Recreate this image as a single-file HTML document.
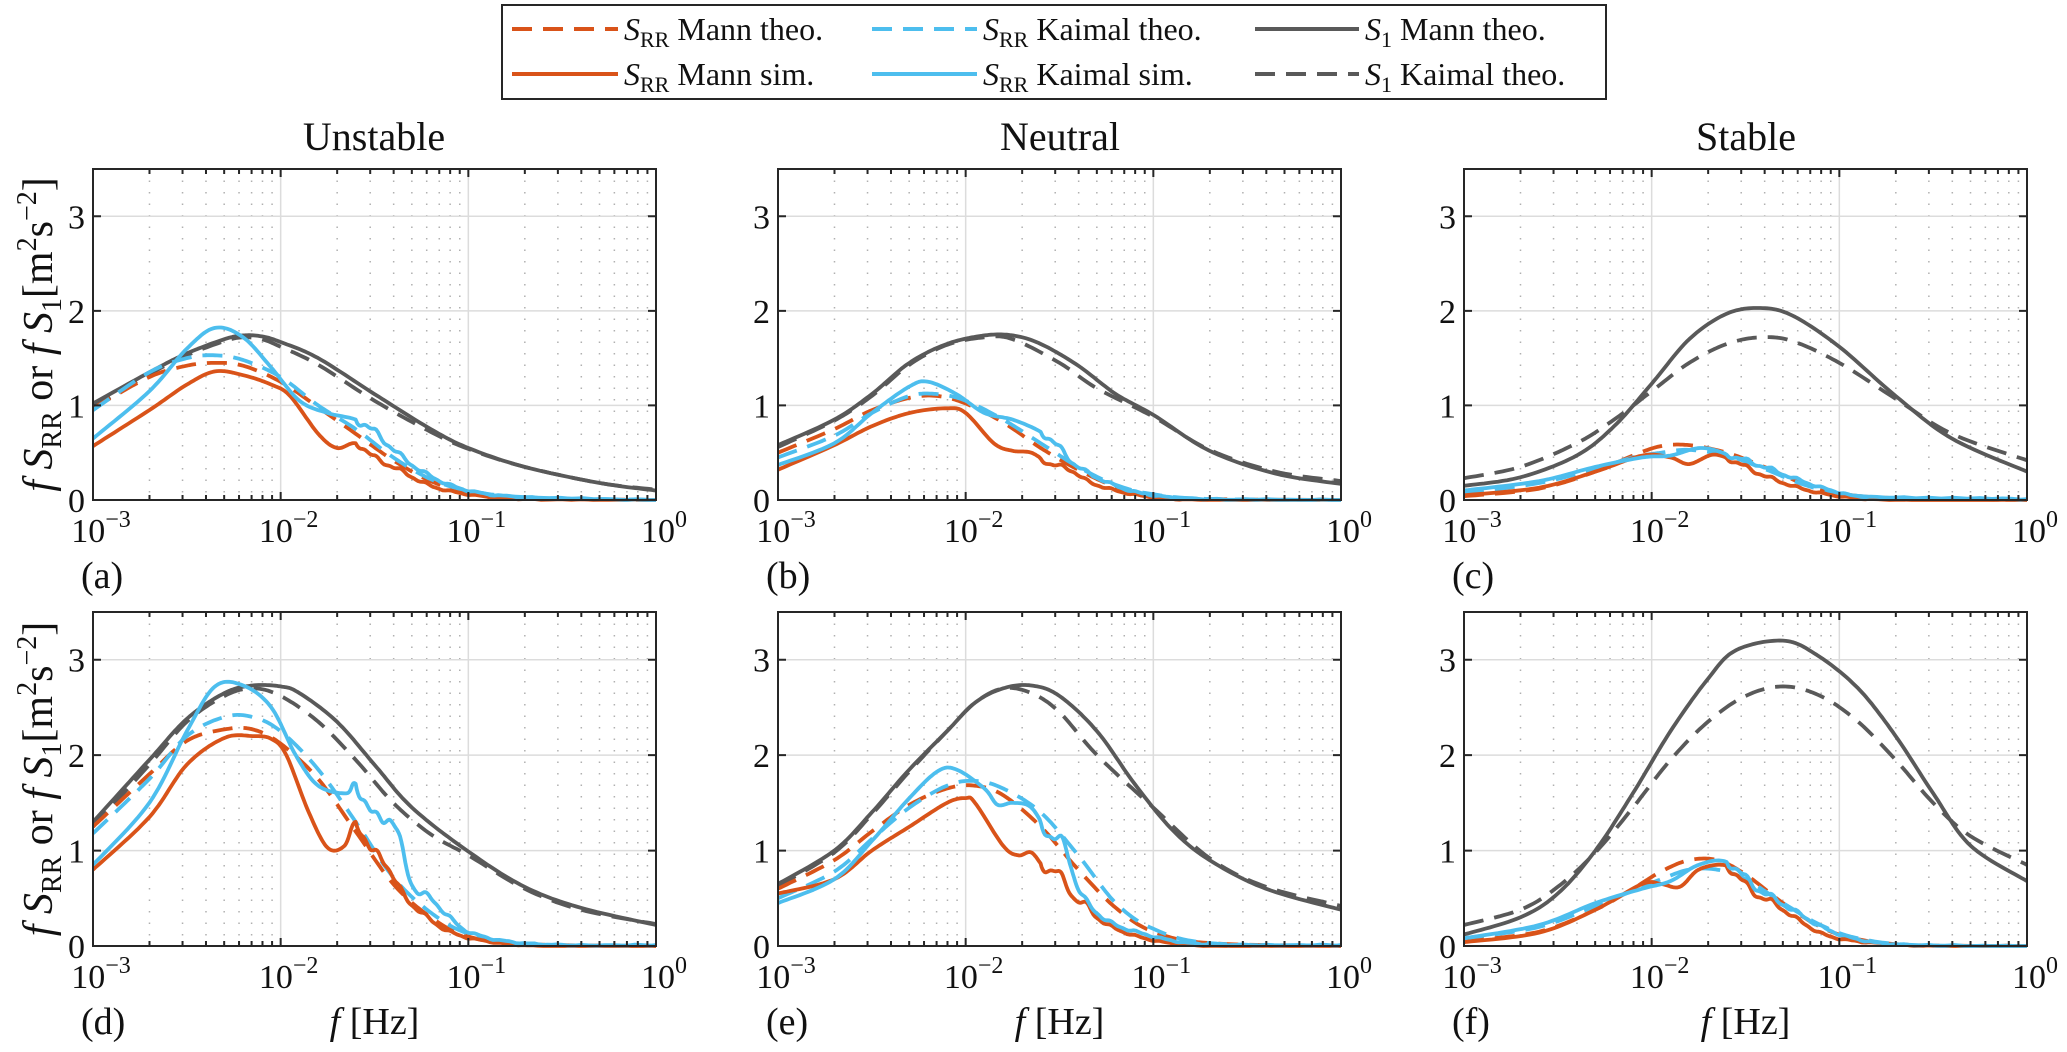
<!DOCTYPE html>
<html><head><meta charset="utf-8">
<style>
html,body{margin:0;padding:0;background:#fff;}
svg{display:block;font-family:"Liberation Serif",serif;}
</style></head>
<body>
<svg id="s" width="2067" height="1052" viewBox="0 0 2067 1052" xmlns="http://www.w3.org/2000/svg">
<rect x="0" y="0" width="2067" height="1052" fill="#fff"/>
<g>
<rect x="502" y="5" width="1104" height="94" fill="#fff" stroke="#262626" stroke-width="2"/>
<g stroke-width="4" fill="none">
<line x1="512" y1="29" x2="618" y2="29" stroke="#D95319" stroke-dasharray="20 11"/>
<line x1="512" y1="74" x2="618" y2="74" stroke="#D95319"/>
<line x1="872" y1="29" x2="977" y2="29" stroke="#4DBEEE" stroke-dasharray="20 11"/>
<line x1="872" y1="74" x2="977" y2="74" stroke="#4DBEEE"/>
<line x1="1255" y1="29" x2="1359" y2="29" stroke="#595959"/>
<line x1="1255" y1="74" x2="1359" y2="74" stroke="#595959" stroke-dasharray="20 11"/>
</g>
<g font-size="32" fill="#111">
<text x="624" y="40"><tspan font-style="italic">S</tspan><tspan font-size="22" dy="7">RR</tspan><tspan dy="-7"> Mann theo.</tspan></text>
<text x="624" y="85"><tspan font-style="italic">S</tspan><tspan font-size="22" dy="7">RR</tspan><tspan dy="-7"> Mann sim.</tspan></text>
<text x="983" y="40"><tspan font-style="italic">S</tspan><tspan font-size="22" dy="7">RR</tspan><tspan dy="-7"> Kaimal theo.</tspan></text>
<text x="983" y="85"><tspan font-style="italic">S</tspan><tspan font-size="22" dy="7">RR</tspan><tspan dy="-7"> Kaimal sim.</tspan></text>
<text x="1365" y="40"><tspan font-style="italic">S</tspan><tspan font-size="22" dy="7">1</tspan><tspan dy="-7"> Mann theo.</tspan></text>
<text x="1365" y="85"><tspan font-style="italic">S</tspan><tspan font-size="22" dy="7">1</tspan><tspan dy="-7"> Kaimal theo.</tspan></text>
</g>
</g>
<g font-size="40" fill="#111" text-anchor="middle">
<text x="374" y="150">Unstable</text>
<text x="1060" y="150">Neutral</text>
<text x="1746" y="150">Stable</text>
</g>
<g id="plots"></g>
</svg>
<script>
(function(){
var NS="http://www.w3.org/2000/svg";
var g=document.getElementById("plots");
var lefts=[93,778,1464], W=563, tops=[169,612], bots=[500,946];
var C={o:"#D95319",b:"#4DBEEE",k:"#595959"};
function el(n,a,p){var e=document.createElementNS(NS,n);for(var k in a)e.setAttribute(k,a[k]);(p||g).appendChild(e);return e;}
var D=[
{s1m:[[-3,1.02],[-2.7,1.35],[-2.5,1.55],[-2.3,1.70],[-2.2,1.74],[-2.1,1.73],[-2,1.67],[-1.8,1.5],[-1.5,1.12],[-1.2,0.75],[-1,0.55],[-0.7,0.35],[-0.3,0.18],[0,0.1]],
 s1k:[[-3,0.98],[-2.7,1.33],[-2.5,1.53],[-2.3,1.68],[-2.2,1.72],[-2.1,1.70],[-2,1.62],[-1.8,1.43],[-1.5,1.05],[-1.2,0.72],[-1,0.54],[-0.7,0.35],[-0.3,0.18],[0,0.11]],
 rmt:[[-3,0.97],[-2.7,1.3],[-2.5,1.42],[-2.35,1.45],[-2.2,1.42],[-2,1.25],[-1.8,0.98],[-1.6,0.7],[-1.4,0.42],[-1.2,0.2],[-1,0.08],[-0.7,0.02],[0,0]],
 rkt:[[-3,0.95],[-2.7,1.35],[-2.5,1.5],[-2.35,1.53],[-2.2,1.48],[-2,1.3],[-1.8,1.0],[-1.6,0.75],[-1.4,0.45],[-1.2,0.22],[-1,0.1],[-0.7,0.03],[0,0]],
 rms:[[-3,0.57],[-2.7,0.95],[-2.5,1.22],[-2.35,1.36],[-2.2,1.32],[-2.05,1.22],[-1.95,1.1],[-1.8,0.7],[-1.7,0.55],[-1.6,0.6],[-1.5,0.45],[-1.35,0.3],[-1.2,0.15],[-1,0.06],[-0.7,0.01],[0,0]],
 rks:[[-3,0.65],[-2.7,1.15],[-2.5,1.6],[-2.35,1.82],[-2.2,1.72],[-2.05,1.4],[-1.9,1.05],[-1.75,0.92],[-1.6,0.85],[-1.5,0.72],[-1.35,0.45],[-1.2,0.25],[-1,0.1],[-0.7,0.03],[0,0]]},
{s1m:[[-3,0.58],[-2.7,0.85],[-2.5,1.12],[-2.3,1.45],[-2.1,1.65],[-1.9,1.74],[-1.75,1.74],[-1.6,1.65],[-1.4,1.42],[-1.2,1.12],[-1,0.9],[-0.7,0.52],[-0.35,0.28],[0,0.17]],
 s1k:[[-3,0.56],[-2.7,0.84],[-2.5,1.1],[-2.3,1.43],[-2.1,1.64],[-1.9,1.72],[-1.75,1.7],[-1.5,1.45],[-1.3,1.18],[-1.0,0.88],[-0.7,0.53],[-0.35,0.3],[0,0.2]],
 rmt:[[-3,0.5],[-2.7,0.75],[-2.5,0.95],[-2.3,1.08],[-2.15,1.1],[-2,1.02],[-1.8,0.82],[-1.6,0.55],[-1.4,0.32],[-1.2,0.14],[-1,0.05],[-0.7,0.01],[0,0]],
 rkt:[[-3,0.45],[-2.7,0.68],[-2.5,0.92],[-2.3,1.1],[-2.15,1.12],[-2,1.05],[-1.8,0.85],[-1.6,0.6],[-1.4,0.35],[-1.2,0.16],[-1,0.06],[-0.7,0.01],[0,0]],
 rms:[[-3,0.32],[-2.7,0.58],[-2.5,0.78],[-2.3,0.92],[-2.1,0.97],[-2,0.92],[-1.85,0.6],[-1.75,0.52],[-1.65,0.5],[-1.55,0.38],[-1.45,0.33],[-1.35,0.2],[-1.2,0.1],[-1,0.03],[-0.7,0],[0,0]],
 rks:[[-3,0.37],[-2.7,0.6],[-2.5,0.92],[-2.3,1.2],[-2.2,1.25],[-2.05,1.12],[-1.9,0.92],[-1.75,0.85],[-1.6,0.72],[-1.5,0.55],[-1.4,0.35],[-1.2,0.15],[-1,0.05],[-0.7,0.01],[0,0]]},
{s1m:[[-3,0.15],[-2.7,0.24],[-2.4,0.47],[-2.2,0.78],[-2,1.23],[-1.8,1.7],[-1.6,1.97],[-1.42,2.03],[-1.25,1.95],[-1,1.62],[-0.7,1.1],[-0.4,0.65],[0,0.3]],
 s1k:[[-3,0.23],[-2.7,0.35],[-2.4,0.6],[-2.2,0.85],[-2,1.15],[-1.8,1.45],[-1.6,1.65],[-1.42,1.72],[-1.25,1.68],[-1,1.45],[-0.7,1.07],[-0.4,0.7],[0,0.42]],
 rmt:[[-3,0.04],[-2.6,0.12],[-2.3,0.3],[-2.1,0.47],[-1.95,0.57],[-1.8,0.58],[-1.6,0.5],[-1.4,0.35],[-1.2,0.18],[-1,0.07],[-0.7,0.02],[0,0]],
 rkt:[[-3,0.07],[-2.6,0.18],[-2.3,0.33],[-2.1,0.45],[-1.95,0.5],[-1.8,0.53],[-1.6,0.47],[-1.4,0.33],[-1.2,0.17],[-1,0.07],[-0.7,0.02],[0,0]],
 rms:[[-3,0.05],[-2.6,0.13],[-2.3,0.3],[-2.05,0.47],[-1.9,0.45],[-1.8,0.38],[-1.67,0.48],[-1.55,0.4],[-1.45,0.3],[-1.35,0.22],[-1.2,0.12],[-1,0.04],[-0.7,0],[0,0]],
 rks:[[-3,0.1],[-2.6,0.2],[-2.3,0.35],[-2.05,0.45],[-1.9,0.47],[-1.73,0.55],[-1.55,0.45],[-1.4,0.35],[-1.2,0.2],[-1,0.08],[-0.8,0.03],[0,0.01]]},
{s1m:[[-3,1.3],[-2.7,1.95],[-2.5,2.38],[-2.3,2.65],[-2.15,2.73],[-2,2.72],[-1.9,2.65],[-1.7,2.35],[-1.5,1.9],[-1.3,1.45],[-1,0.99],[-0.7,0.62],[-0.4,0.4],[0,0.22]],
 s1k:[[-3,1.25],[-2.7,1.9],[-2.5,2.35],[-2.3,2.62],[-2.15,2.7],[-2,2.62],[-1.8,2.35],[-1.6,1.95],[-1.4,1.5],[-1.2,1.17],[-1,0.95],[-0.7,0.6],[-0.4,0.38],[0,0.23]],
 rmt:[[-3,1.25],[-2.7,1.8],[-2.5,2.15],[-2.3,2.27],[-2.15,2.27],[-2,2.12],[-1.8,1.75],[-1.6,1.2],[-1.4,0.65],[-1.2,0.3],[-1,0.1],[-0.7,0.02],[0,0]],
 rkt:[[-3,1.18],[-2.7,1.75],[-2.5,2.2],[-2.3,2.4],[-2.15,2.4],[-2,2.25],[-1.8,1.85],[-1.6,1.3],[-1.4,0.72],[-1.2,0.35],[-1,0.13],[-0.7,0.02],[0,0]],
 rms:[[-3,0.8],[-2.7,1.35],[-2.5,1.9],[-2.3,2.18],[-2.15,2.2],[-2.05,2.17],[-1.97,2.0],[-1.85,1.4],[-1.75,1.03],[-1.66,1.05],[-1.6,1.3],[-1.52,1.0],[-1.45,0.9],[-1.35,0.55],[-1.25,0.35],[-1.1,0.15],[-0.9,0.05],[-0.6,0],[0,0]],
 rks:[[-3,0.85],[-2.7,1.5],[-2.5,2.25],[-2.35,2.72],[-2.2,2.73],[-2.05,2.5],[-1.92,2.0],[-1.8,1.68],[-1.65,1.6],[-1.6,1.7],[-1.5,1.35],[-1.4,1.3],[-1.3,0.65],[-1.2,0.5],[-1.1,0.3],[-1,0.15],[-0.8,0.05],[-0.5,0.01],[0,0.01]]},
{s1m:[[-3,0.65],[-2.7,1.0],[-2.5,1.4],[-2.3,1.85],[-2.1,2.25],[-1.95,2.55],[-1.8,2.7],[-1.65,2.73],[-1.5,2.62],[-1.3,2.25],[-1.1,1.7],[-0.9,1.22],[-0.7,0.9],[-0.4,0.6],[0,0.38]],
 s1k:[[-3,0.63],[-2.7,0.98],[-2.5,1.38],[-2.3,1.83],[-2.1,2.25],[-1.95,2.55],[-1.8,2.7],[-1.65,2.65],[-1.5,2.45],[-1.3,2.0],[-1,1.45],[-0.7,0.92],[-0.4,0.62],[0,0.42]],
 rmt:[[-3,0.6],[-2.7,0.9],[-2.5,1.2],[-2.3,1.48],[-2.1,1.65],[-1.95,1.68],[-1.8,1.58],[-1.6,1.25],[-1.4,0.8],[-1.2,0.4],[-1,0.15],[-0.7,0.03],[0,0]],
 rkt:[[-3,0.5],[-2.7,0.78],[-2.5,1.12],[-2.3,1.45],[-2.1,1.68],[-1.95,1.73],[-1.8,1.65],[-1.6,1.4],[-1.4,0.95],[-1.2,0.45],[-1,0.18],[-0.7,0.03],[0,0]],
 rms:[[-3,0.55],[-2.7,0.7],[-2.5,1.0],[-2.3,1.25],[-2.1,1.5],[-2,1.55],[-1.95,1.5],[-1.8,1.05],[-1.72,0.95],[-1.65,0.98],[-1.58,0.82],[-1.5,0.75],[-1.42,0.5],[-1.35,0.42],[-1.3,0.3],[-1.2,0.18],[-1,0.06],[-0.7,0],[0,0]],
 rks:[[-3,0.45],[-2.7,0.7],[-2.5,1.1],[-2.3,1.55],[-2.15,1.83],[-2.05,1.85],[-1.9,1.65],[-1.83,1.48],[-1.75,1.5],[-1.65,1.45],[-1.55,1.15],[-1.47,1.05],[-1.4,0.6],[-1.3,0.35],[-1.2,0.22],[-1,0.1],[-0.8,0.03],[-0.5,0.01],[0,0.01]]},
{s1m:[[-3,0.12],[-2.7,0.3],[-2.5,0.55],[-2.3,1.0],[-2.1,1.6],[-1.9,2.25],[-1.7,2.8],[-1.55,3.1],[-1.3,3.2],[-1.12,3.05],[-0.9,2.7],[-0.7,2.2],[-0.5,1.6],[-0.3,1.05],[0,0.68]],
 s1k:[[-3,0.22],[-2.7,0.38],[-2.5,0.62],[-2.3,0.98],[-2.1,1.45],[-1.9,1.95],[-1.7,2.35],[-1.5,2.62],[-1.3,2.72],[-1.1,2.62],[-0.9,2.35],[-0.7,1.95],[-0.5,1.5],[-0.3,1.15],[0,0.85]],
 rmt:[[-3,0.05],[-2.6,0.15],[-2.3,0.38],[-2.1,0.6],[-1.95,0.78],[-1.8,0.9],[-1.65,0.9],[-1.5,0.75],[-1.3,0.45],[-1.1,0.2],[-0.9,0.07],[-0.6,0.01],[0,0]],
 rkt:[[-3,0.08],[-2.6,0.2],[-2.3,0.42],[-2.1,0.58],[-1.95,0.7],[-1.8,0.8],[-1.65,0.8],[-1.5,0.7],[-1.3,0.45],[-1.1,0.22],[-0.9,0.08],[-0.6,0.01],[0,0]],
 rms:[[-3,0.04],[-2.6,0.14],[-2.3,0.38],[-2.05,0.65],[-1.95,0.65],[-1.85,0.62],[-1.75,0.8],[-1.62,0.85],[-1.55,0.75],[-1.45,0.55],[-1.35,0.45],[-1.2,0.25],[-1.05,0.1],[-0.8,0.03],[-0.5,0],[0,0]],
 rks:[[-3,0.08],[-2.6,0.22],[-2.3,0.45],[-2.05,0.6],[-1.9,0.68],[-1.75,0.85],[-1.6,0.88],[-1.45,0.62],[-1.35,0.5],[-1.2,0.32],[-1.05,0.16],[-0.85,0.05],[-0.6,0.01],[0,0]]}
];
function sample(pts,noise){
  var out=[];
  for(var i=0;i<pts.length-1;i++){
    var p0=pts[Math.max(0,i-1)],p1=pts[i],p2=pts[i+1],p3=pts[Math.min(pts.length-1,i+2)];
    var n=14;
    for(var j=0;j<n;j++){
      var t=j/n,t2=t*t,t3=t2*t;
      var f=function(a,b,c,d){return 0.5*((2*b)+(-a+c)*t+(2*a-5*b+4*c-d)*t2+(-a+3*b-3*c+d)*t3);};
      var x=f(p0[0],p1[0],p2[0],p3[0]), y=f(p0[1],p1[1],p2[1],p3[1]);
      if(noise && x>-1.6){y+= (0.035*y+0.004)*(Math.sin(x*45)+0.5*Math.sin(x*97+1.3));}
      if(y<0)y=0;
      out.push([x,y]);
    }
  }
  out.push(pts[pts.length-1]);
  return out;
}
var labels=["(a)","(b)","(c)","(d)","(e)","(f)"];
for(var r=0;r<2;r++)for(var c=0;c<3;c++){
  var idx=r*3+c, L=lefts[c], T=tops[r], B=bots[r], H=B-T;
  var X=function(lx){return L+(lx+3)/3*W;}, Y=function(v){return B-v/3.5*H;};
  for(var d=-3;d<0;d++)for(var m=2;m<=9;m++){
    var xx=X(d+Math.log10(m));
    el("line",{x1:xx,y1:T,x2:xx,y2:B,stroke:"#b0b0b0","stroke-width":1.5,"stroke-dasharray":"1.5 10"});
  }
  for(var d=-2;d<0;d++){var xx=X(d);el("line",{x1:xx,y1:T,x2:xx,y2:B,stroke:"#dcdcdc","stroke-width":1.5});}
  for(var v=1;v<=3;v++){el("line",{x1:L,y1:Y(v),x2:L+W,y2:Y(v),stroke:"#dcdcdc","stroke-width":1.5});}
  var dd=D[idx];
  var spec=[["s1m",C.k,0,0],["s1k",C.k,1,0],["rmt",C.o,1,0],["rkt",C.b,1,0],["rms",C.o,0,1],["rks",C.b,0,1]];
  var clip=el("clipPath",{id:"cp"+idx});
  el("rect",{x:L,y:T,width:W,height:H+2},clip);
  spec.forEach(function(s){
    var pts=sample(dd[s[0]],s[3]);
    var dstr=pts.map(function(p,i){return (i?"L":"M")+X(p[0]).toFixed(1)+" "+Y(p[1]).toFixed(1);}).join("");
    var a={d:dstr,fill:"none",stroke:s[1],"stroke-width":3.8,"stroke-linejoin":"round","clip-path":"url(#cp"+idx+")"};
    if(s[2])a["stroke-dasharray"]="20 11";
    el("path",a);
  });
  el("rect",{x:L,y:T,width:W,height:H,fill:"none",stroke:"#262626","stroke-width":2});
  var tk="";
  for(var d=-3;d<0;d++)for(var m=1;m<=9;m++){
    var xx=X(d+Math.log10(m)),len=(m==1?8:5);
    tk+="M"+xx+" "+B+"v"+(-len)+"M"+xx+" "+T+"v"+len;
  }
  for(var v=0;v<=3;v++){var yy=Y(v);tk+="M"+L+" "+yy+"h8M"+(L+W)+" "+yy+"h-8";}
  el("path",{d:tk,stroke:"#262626","stroke-width":2,fill:"none"});
  for(var v=0;v<=3;v++){var t=el("text",{x:L-8,y:Y(v)+12,"font-size":34,"text-anchor":"end",fill:"#111"});t.textContent=String(v);}
  var ex=["\u22123","\u22122","\u22121","0"];
  for(var d=0;d<4;d++){
    var t=el("text",{x:X(d-3)+8,y:B+42,"font-size":34,"text-anchor":"middle",fill:"#111"});
    var a1=document.createElementNS(NS,"tspan");a1.textContent="10";t.appendChild(a1);
    var a2=document.createElementNS(NS,"tspan");a2.setAttribute("font-size","24");a2.setAttribute("dy","-15");a2.textContent=ex[d];t.appendChild(a2);
  }
  var lt=el("text",{x:L-12,y:B+88,"font-size":38,fill:"#111"});lt.textContent=labels[idx];
  if(r==1){
    var ft=el("text",{x:L+W/2,y:B+88,"font-size":38,"text-anchor":"middle",fill:"#111"});
    ft.innerHTML='<tspan font-style="italic">f</tspan>  [Hz]';
  }
  if(c==0){
    var cy=(T+B)/2;
    var yt=el("text",{x:0,y:0,"font-size":42,"text-anchor":"middle",fill:"#111",transform:"translate(52,"+cy+") rotate(-90)"});
    yt.innerHTML='<tspan font-style="italic">f S</tspan><tspan font-size="28" dy="9">RR</tspan><tspan dy="-9"> or </tspan><tspan font-style="italic">f S</tspan><tspan font-size="28" dy="9">1</tspan><tspan dy="-9">[m</tspan><tspan font-size="28" dy="-16">2</tspan><tspan dy="16">s</tspan><tspan font-size="28" dy="-16">\u22122</tspan><tspan dy="16">]</tspan>';
  }
}
})();
</script>
</body></html>
